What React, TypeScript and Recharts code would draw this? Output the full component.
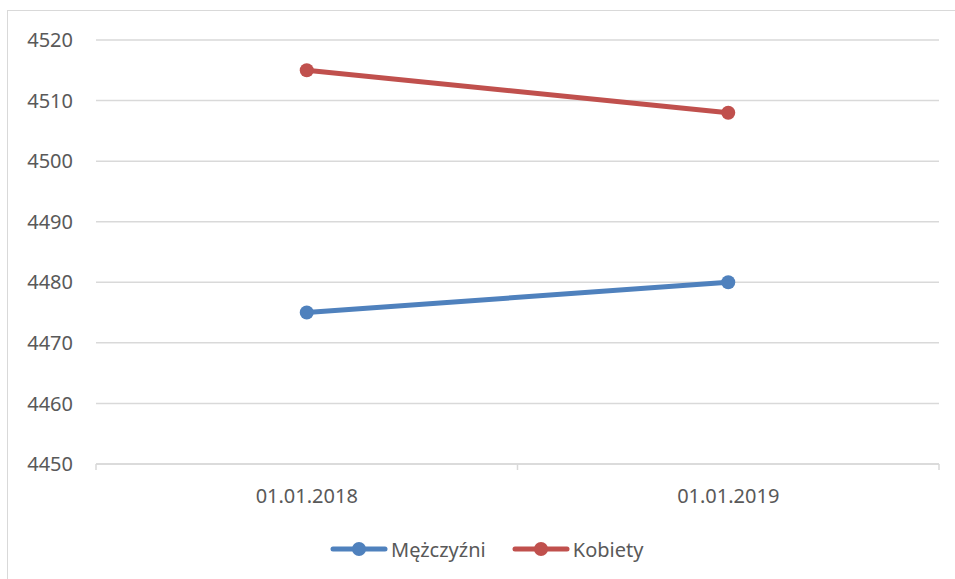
import React from 'react';
import { LineChart, Line, XAxis, YAxis, CartesianGrid, Legend } from 'recharts';

const categories = ['01.01.2018', '01.01.2019'];
const mezczyzni = [4475, 4480];
const kobiety = [4515, 4508];
const yTicks = [4450, 4460, 4470, 4480, 4490, 4500, 4510, 4520];

const series = [
  { key: 'mezczyzni', name: 'Mężczyźni', color: '#4f81bd' },
  { key: 'kobiety', name: 'Kobiety', color: '#c0504d' },
];

// punkty na środku kategorii, kreski osi na granicach
const data = categories.map((c, i) => ({
  x: i + 0.5,
  label: c,
  mezczyzni: mezczyzni[i],
  kobiety: kobiety[i],
}));
const xTicks: number[] = [];
for (let i = 0; i <= categories.length; i++) {
  xTicks.push(i);
  if (i < categories.length) xTicks.push(i + 0.5);
}

const FONT = '"Noto Sans", sans-serif';
const TEXT = '#595959';
const GRID = '#d9d9d9';

const XTick = (props: any) => {
  const { x, y, payload } = props;
  const v = payload.value;
  if (Number.isInteger(v)) {
    return <line x1={x} x2={x} y1={y} y2={y + 6} stroke={GRID} strokeWidth={1.5} />;
  }
  const idx = Math.floor(v);
  return (
    <text x={x} y={y + 31} textAnchor="middle" dominantBaseline="central" fill={TEXT} fontSize={20} fontFamily={FONT}>
      {categories[idx]}
    </text>
  );
};

const LegendContent = () => (
  <div style={{ display: 'flex', justifyContent: 'flex-start', alignItems: 'center', height: 30, paddingLeft: 330, fontFamily: FONT, fontSize: 20, color: TEXT }}>
    {series.map((s) => (
      <div key={s.key} style={{ display: 'flex', alignItems: 'center', marginRight: 26 }}>
        <svg width={58} height={20} style={{ marginRight: 3 }}>
          <line x1={3} x2={55} y1={10} y2={10} stroke={s.color} strokeWidth={5} strokeLinecap="round" />
          <circle cx={29} cy={10} r={7} fill={s.color} />
        </svg>
        <span>{s.name}</span>
      </div>
    ))}
  </div>
);

export default function App() {
  return (
    <div style={{ position: 'fixed', left: 0, top: 0, width: 955, height: 579, background: '#fff', overflow: 'hidden' }}>
      <div style={{ position: 'absolute', left: 7, top: 10, width: 980, height: 600, border: `1.5px solid ${GRID}` }} />
      <div style={{ position: 'absolute', left: 0, top: 0 }}>
        <LineChart width={955} height={579} data={data} margin={{ top: 40, right: 16, bottom: 15, left: 0 }}>
          <CartesianGrid vertical={false} stroke={GRID} strokeWidth={1.5} />
          <XAxis
            dataKey="x"
            type="number"
            domain={[0, categories.length]}
            ticks={xTicks}
            interval={0}
            height={70}
            tickLine={false}
            tickSize={0}
            tickMargin={0}
            axisLine={{ stroke: GRID, strokeWidth: 1.5 }}
            tick={<XTick />}
          />
          <YAxis
            domain={[4450, 4520]}
            ticks={yTicks}
            interval={0}
            width={96}
            axisLine={false}
            tickLine={false}
            tickMargin={17}
            tick={{ fill: TEXT, fontSize: 20, fontFamily: FONT }}
          />
          <Legend verticalAlign="bottom" align="left" height={30} content={<LegendContent />} />
          {series.map((s) => (
            <Line
              key={s.key}
              dataKey={s.key}
              name={s.name}
              stroke={s.color}
              strokeWidth={5}
              dot={{ r: 7, fill: s.color, stroke: 'none' }}
              isAnimationActive={false}
            />
          ))}
        </LineChart>
      </div>
    </div>
  );
}
